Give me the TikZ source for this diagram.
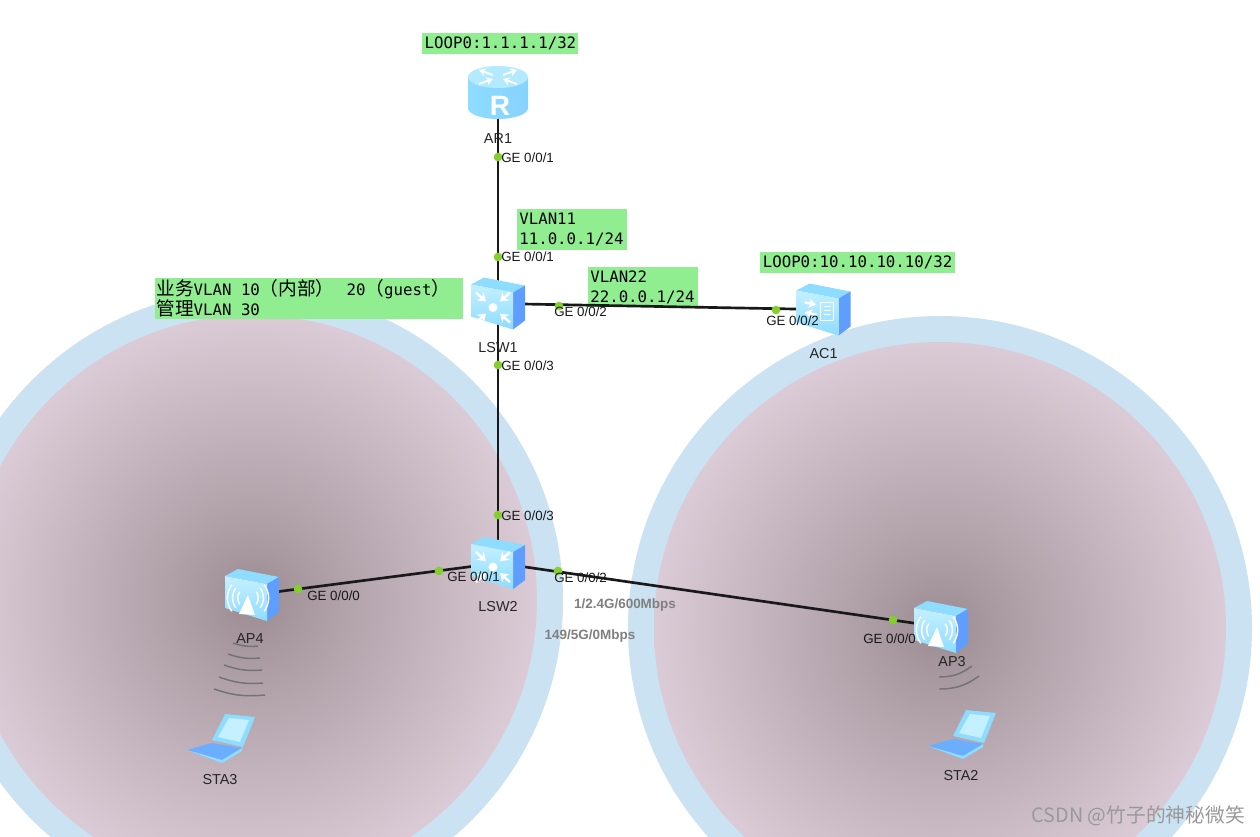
\documentclass[tikz,border=0pt]{standalone}
\usepackage{fontspec}
\setmainfont{Liberation Sans}
\setmonofont{DejaVu Sans Mono}
\newfontfamily\cjkfont{Noto Sans CJK SC}
\usetikzlibrary{arrows.meta, positioning}
\definecolor{notegreen}{HTML}{90EE90}
\definecolor{cellring}{HTML}{CBE2F2}
\definecolor{portgreen}{HTML}{84CF2C}
\definecolor{iconlight}{HTML}{C4F0FF}
\definecolor{iconmid}{HTML}{8EDCFF}
\definecolor{iconside}{HTML}{5F9DFF}
\definecolor{glowa}{HTML}{9C8C92}
\definecolor{glowb}{HTML}{B4A4AC}
\definecolor{glowc}{HTML}{DACBD6}
\pgfdeclareradialshading{cellglow}{\pgfpoint{0bp}{0bp}}{%
  color(0bp)=(glowa);
  color(9bp)=(glowb);
  color(25bp)=(glowc);
  color(50bp)=(glowc)}
\newcommand{\zh}[1]{{\cjkfont\fontsize{14}{15}\selectfont #1}}
\newcommand{\monogap}{\hspace{7.1pt}}
\tikzset{
  cubebody/.pic={
    \fill[iconmid] (-27,-19) -- (-14,-26) -- (27,-18) -- (15,-11) -- cycle;
    \fill[iconside] (15,-11) -- (27,-18) -- (27,17) -- (15,26) -- cycle;
    \shade[top color=iconlight, bottom color=iconmid] (-27,-19) -- (15,-11) -- (15,26) -- (-27,13) -- cycle;
  },
  switchicon/.pic={
    \pic {cubebody};
    \fill[white] (-5,4) circle (4.5);
    \foreach \sx/\sy in {-1/-1, 1/-1, -1/1, 1/1}
      \draw[white, line width=1.8pt, -{Stealth[length=6pt, width=8pt]}] (-5+17*\sx,4+15*\sy) -- (-5+7*\sx,4+6*\sy);
  },
  apicon/.pic={
    \pic {cubebody};
    \fill[white] (-4,0) -- (3,20) -- (-13,19) -- cycle;
    \foreach \r in {9,14,19} {
      \draw[white, line width=1.1pt] (-5-\r*.8,3-\r*.7) to[bend right=35] (-5-\r*.8,3+\r*.7);
      \draw[white, line width=1.1pt] (-3+\r*.8,3-\r*.7) to[bend left=35] (-3+\r*.8,3+\r*.7);
    }
  },
  acicon/.pic={
    \pic {cubebody};
    \draw[white, line width=1.2pt] (-3,-7) rectangle (10,11);
    \foreach \ly in {-3,1,5}
      \draw[white, line width=.9pt] (0,\ly) -- (7,\ly);
    \draw[white, line width=1.8pt, -{Stealth[length=6pt, width=7pt]}] (-19,-7) -- (-7,-5);
    \draw[white, line width=1.8pt, -{Stealth[length=6pt, width=7pt]}] (-7,5) -- (-19,3);
  },
  routericon/.pic={
    \shade[left color=iconmid, right color=iconmid!85!iconside] (-30,-18) -- (-30,13) arc[start angle=180, end angle=360, x radius=30, y radius=-11] -- (30,-18) -- cycle;
    \fill[iconlight!70!iconmid] (0,-18) ellipse (30 and 11);
    \foreach \sx in {-1,1} {
      \draw[white, line width=1.4pt, -{Stealth[length=5pt, width=6pt]}] (\sx*5,-20) -- (\sx*19,-25);
      \draw[white, line width=1.4pt, -{Stealth[length=5pt, width=6pt]}] (\sx*19,-11) -- (\sx*5,-16);
    }
    \node[white, font=\bfseries\fontsize{21}{21}\selectfont, inner sep=0pt] (rmark) at (2,11) {R};
  },
  laptopicon/.pic={
    \fill[iconmid] (5,-24) -- (35,-21) -- (23,9) -- (-8,2) -- cycle;
    \fill[iconlight] (9,-20) -- (29,-18) -- (20,4) -- (-2,-1) -- cycle;
    \fill[iconside!75!iconmid] (-33,12) -- (-8,5) -- (22,10) -- (2,24) -- cycle;
    \fill[iconmid] (-33,12) -- (2,22) -- (22,10) -- (22,13) -- (2,25) -- cycle;
  },
}
\begin{document}
\begin{tikzpicture}[
    x=0.75pt, y=-0.75pt,
    node distance=13.5pt,
    devbox/.style={minimum width=30pt, minimum height=30pt, inner sep=0pt},
    devlabel/.style={inner sep=0pt, text=black!85, font=\fontsize{10.8}{12}\selectfont},
    port/.style={circle, fill=portgreen, inner sep=0pt, minimum size=6.5pt},
    portlabel/.style={anchor=west, inner sep=0pt, text=black!90, font=\fontsize{10}{12}\selectfont},
    note/.style={fill=notegreen, align=left, inner sep=0pt, font=\ttfamily\fontsize{11.8}{15}\selectfont},
    rate/.style={inner sep=0pt, text=black!50, font=\bfseries\fontsize{10.1}{12}\selectfont},
    link/.style={line width=2pt, black!90},
    wave/.style={line width=1.1pt, black!55}
]
\path[use as bounding box, clip] (0,0) rectangle (1260,836);
\fill[white] (0,0) rectangle (1260,836);

\fill[cellring] (252,600) circle (311);
\shade[shading=cellglow] (252,600) circle (285);
\fill[cellring] (940,628) circle (312);
\shade[shading=cellglow] (940,628) circle (286);

\node[devbox] (ar1) at (498,95) {};
\node[devbox, below=126pt of ar1] (lsw1) {};
\node[devbox, below=164.25pt of lsw1] (lsw2) {};
\node[devbox, right=213.75pt of lsw1, yshift=-4.5pt] (ac1) {};
\node[devbox] (ap4) at (252,595) {};
\node[devbox] (ap3) at (941,627) {};
\node[devbox] (sta3) at (220,738) {};
\node[devbox] (sta2) at (961,734) {};

\node[note, minimum width=117pt, minimum height=15.75pt, text width=113pt] (loopar) at (500,43.5) {LOOP0:1.1.1.1/32};
\node[note, minimum width=82.5pt, minimum height=30.75pt, text width=79pt] (vlan11) at (572,229.5) {VLAN11\\11.0.0.1/24};
\node[note, minimum width=82.5pt, minimum height=30pt, text width=79pt] (vlan22) at (643,287) {VLAN22\\22.0.0.1/24};
\node[note, minimum width=146.25pt, minimum height=15.75pt, text width=142pt] (loopac) at (857.5,262.5) {LOOP0:10.10.10.10/32};
\node[note, minimum width=231pt, minimum height=30.75pt, text width=229pt] (service) at (309,298.5) {\raisebox{1pt}{\zh{业务}VLAN\monogap 10\zh{（内部）}\hspace{9pt}20\zh{（}guest\zh{）}}\\\raisebox{1pt}{\zh{管理}VLAN\monogap 30}};

\draw[link] (ar1) -- (lsw1);
\draw[link] (lsw1) -- (lsw2);
\draw[link] (lsw1) -- (ac1);
\draw[link] (lsw2) -- (ap4);
\draw[link] (lsw2) -- (ap3);

\pic at (ar1) {routericon};
\pic at (lsw1) {switchicon};
\pic at (lsw2) {switchicon};
\pic at (ac1) {acicon};
\pic at (ap4) {apicon};
\pic at (ap3) {apicon};
\pic at (sta3) {laptopicon};
\pic at (sta2) {laptopicon};

\foreach \xa/\ya/\xb/\yb in {233/643/258/646, 228/654/260/658, 224/665/262/670, 219/677/263/683, 214/689/265/695}
  \draw[wave] (\xa,\ya) to[bend right=12] (\xb,\yb);
\foreach \xa/\ya/\xb/\yb in {939/677/972/666, 939/689/979/676}
  \draw[wave] (\xa,\ya) to[bend right=18] (\xb,\yb);

\node[devlabel, below=of ar1] (ar1name) {AR1};
\node[devlabel, below=of lsw1] (lsw1name) {LSW1};
\node[devlabel, below=of lsw2] (lsw2name) {LSW2};
\node[devlabel, below=of ac1] (ac1name) {AC1};
\node[devlabel, below=of ap4, xshift=-1.5pt] (ap4name) {AP4};
\node[devlabel, below=6.75pt of ap3, xshift=8.25pt] (ap3name) {AP3};
\node[devlabel, below=12pt of sta3] (sta3name) {STA3};
\node[devlabel, below=12pt of sta2] (sta2name) {STA2};

\foreach \pname/\px/\py in {pa/498/157, pb/498/257, pc/498/365, pd/559/306, pe/776/310, pf/498/515, pg/439/571, ph/558/571, pi/298/589, pj/893/620}
  \node[port] (\pname) at (\px,\py) {};

\node[portlabel] (pat) at (501,157.5) {GE 0/0/1};
\node[portlabel] (pbt) at (501,257) {GE 0/0/1};
\node[portlabel] (pct) at (501,365.5) {GE 0/0/3};
\node[portlabel] (pdt) at (554,312) {GE 0/0/2};
\node[portlabel] (pet) at (766,320.5) {GE 0/0/2};
\node[portlabel] (pft) at (501,515.5) {GE 0/0/3};
\node[portlabel] (pgt) at (447,576.5) {GE 0/0/1};
\node[portlabel] (pht) at (554,578) {GE 0/0/2};
\node[portlabel] (pit) at (307,595.5) {GE 0/0/0};
\node[portlabel] (pjt) at (863,639) {GE 0/0/0};

\node[rate] (rate24) at (625,605.5) {1/2.4G/600Mbps};
\node[rate] (rate5) at (590,636.5) {149/5G/0Mbps};
\node[anchor=east, inner sep=0pt, text=black!40, font=\cjkfont\fontsize{14.8}{16}\selectfont] (mark) at (1245,816) {CSDN @竹子的神秘微笑};
\end{tikzpicture}
\end{document}
